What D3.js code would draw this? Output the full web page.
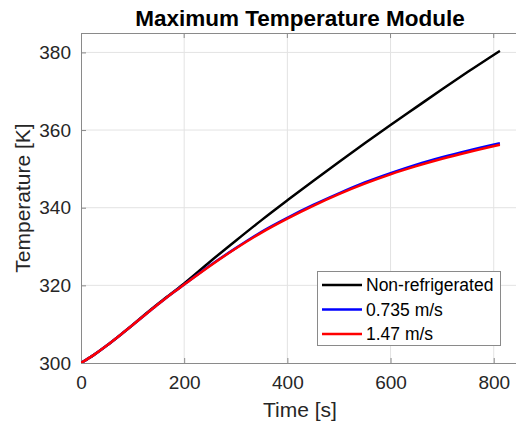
<!DOCTYPE html>
<html>
<head>
<meta charset="utf-8">
<script src="https://cdn.jsdelivr.net/npm/d3@7"></script>
<style>
  body { margin: 0; background: #fff; }
  text { font-family: "Liberation Sans", Arial, sans-serif; }
</style>
</head>
<body>
<div id="chart"></div>
<script>
let w = 516;
let h = 428;
let margin = {top: 33, right: 0, bottom: 65, left: 81};

// time samples [s]
const time = [0, 25, 50, 75, 100, 125, 150, 175, 200, 250, 300, 350, 400, 450, 500, 550, 600, 650, 700, 750, 812];
// temperatures [K]
const nonRefrigerated = [300, 302.1, 304.5, 307.1, 309.8, 312.6, 315.3, 317.9, 320.5, 326.1, 331.5, 336.8, 341.9, 346.9, 351.8, 356.6, 361.3, 365.9, 370.5, 375.0, 380.4];
const v0735 = [300, 302.1, 304.5, 307.1, 309.8, 312.5, 315.2, 317.8, 320.2, 325.1, 329.6, 333.8, 337.4, 340.7, 343.7, 346.5, 348.9, 351.1, 353.0, 354.7, 356.6];
const v147 = [300, 302.1, 304.5, 307.1, 309.8, 312.5, 315.2, 317.8, 320.2, 325.0, 329.5, 333.6, 337.2, 340.5, 343.5, 346.2, 348.6, 350.7, 352.6, 354.3, 356.2];

const seriesNames = ['Non-refrigerated', '0.735 m/s', '1.47 m/s'];
const seriesColors = ['#000000', '#0000ff', '#ff0000'];
const seriesValues = [nonRefrigerated, v0735, v147];

const xTicks = [0, 200, 400, 600, 800];
const yTicks = [300, 320, 340, 360, 380];

let svg = d3.select('#chart')
    .append('svg')
    .attr('width', w)
    .attr('height', h);

let xScale = d3.scaleLinear()
    .domain([0, 850])
    .range([margin.left, margin.left + 850 * 0.5159]);

let yScale = d3.scaleLinear()
    .domain([300, 385])
    .range([h - margin.bottom, margin.top]);

let x1 = xScale.range()[1];
let y0 = yScale.range()[0];

// grid
svg.append('g')
    .selectAll('line')
    .data(xTicks.slice(1))
    .enter()
    .append('line')
    .attr('x1', d => xScale(d)).attr('x2', d => xScale(d))
    .attr('y1', margin.top).attr('y2', y0)
    .attr('stroke', '#e3e3e3').attr('stroke-width', 1);

svg.append('g')
    .selectAll('line')
    .data(yTicks.slice(1))
    .enter()
    .append('line')
    .attr('x1', margin.left).attr('x2', x1)
    .attr('y1', d => yScale(d)).attr('y2', d => yScale(d))
    .attr('stroke', '#e3e3e3').attr('stroke-width', 1);

// box
svg.append('line')
    .attr('x1', margin.left).attr('x2', x1)
    .attr('y1', margin.top + 0.5).attr('y2', margin.top + 0.5)
    .attr('stroke', '#8a8a8a');

let xAxis = d3.axisBottom(xScale)
    .tickValues(xTicks)
    .tickSizeInner(-5)
    .tickSizeOuter(0)
    .tickPadding(12);

let gx = svg.append('g')
    .attr('class', 'xAxis')
    .attr('transform', 'translate(0,' + y0 + ')')
    .call(xAxis);

let yAxis = d3.axisLeft(yScale)
    .tickValues(yTicks)
    .tickSizeInner(-5)
    .tickSizeOuter(0)
    .tickPadding(10);

let gy = svg.append('g')
    .attr('class', 'yAxis')
    .attr('transform', 'translate(' + margin.left + ',0)')
    .call(yAxis);

[gx, gy].forEach(g => {
    g.select('.domain').attr('stroke', '#8a8a8a');
    g.selectAll('.tick line').attr('stroke', '#8a8a8a');
    g.selectAll('.tick text')
        .style('font-size', '19px')
        .attr('fill', '#262626');
});
gx.selectAll('.tick text').attr('dy', '0.72em');

// top ticks
svg.append('g')
    .selectAll('line')
    .data(xTicks.slice(1))
    .enter()
    .append('line')
    .attr('x1', d => xScale(d)).attr('x2', d => xScale(d))
    .attr('y1', margin.top).attr('y2', margin.top + 5)
    .attr('stroke', '#8a8a8a');

// lines
let clip = svg.append('clipPath').attr('id', 'plotClip')
    .append('rect')
    .attr('x', margin.left).attr('y', margin.top)
    .attr('width', x1 - margin.left).attr('height', y0 - margin.top);

let line = d3.line()
    .curve(d3.curveMonotoneX)
    .x((d, i) => xScale(time[i]))
    .y(d => yScale(d));

seriesValues.forEach((vals, i) => {
    svg.append('path')
        .datum(vals)
        .attr('d', line)
        .attr('clip-path', 'url(#plotClip)')
        .attr('fill', 'none')
        .attr('stroke', seriesColors[i])
        .attr('stroke-width', 2.5);
});

// title and labels
svg.append('text')
    .attr('x', 300)
    .attr('y', 26)
    .attr('text-anchor', 'middle')
    .style('font-size', '22.5px')
    .style('font-weight', 'bold')
    .attr('fill', '#000')
    .text('Maximum Temperature Module');

svg.append('text')
    .attr('x', 300)
    .attr('y', 417)
    .attr('text-anchor', 'middle')
    .style('font-size', '21px')
    .attr('fill', '#262626')
    .text('Time [s]');

svg.append('text')
    .attr('transform', 'translate(30,' + ((margin.top + y0) / 2) + ') rotate(-90)')
    .attr('text-anchor', 'middle')
    .style('font-size', '21px')
    .attr('fill', '#262626')
    .text('Temperature [K]');

// legend
let legend = svg.append('g')
    .attr('transform', 'translate(317,271)');

legend.append('rect')
    .attr('x', 0.5).attr('y', 0.5)
    .attr('width', 183).attr('height', 74)
    .attr('fill', '#fff')
    .attr('stroke', '#8a8a8a');

seriesNames.forEach((name, i) => {
    let yy = 14 + i * 24.5;
    legend.append('line')
        .attr('x1', 5).attr('x2', 45)
        .attr('y1', yy).attr('y2', yy)
        .attr('stroke', seriesColors[i])
        .attr('stroke-width', 2.5);
    legend.append('text')
        .attr('x', 49)
        .attr('y', yy + 6)
        .style('font-size', '17.5px')
        .attr('fill', '#000')
        .text(name);
});
</script>
</body>
</html>
